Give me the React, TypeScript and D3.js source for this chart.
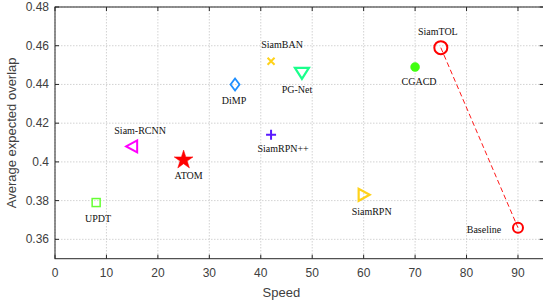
import React from "react";
import * as d3 from "d3";

const names = ["UPDT", "Siam-RCNN", "ATOM", "DiMP", "SiamBAN", "PG-Net", "SiamRPN++", "SiamRPN", "CGACD", "SiamTOL", "Baseline"];
const speeds = [8, 15, 25, 35, 42, 48, 42, 60, 70, 75, 90];
const eaos = [0.379, 0.408, 0.401, 0.44, 0.452, 0.446, 0.414, 0.383, 0.449, 0.459, 0.366];
const colors = ["#66ff33", "#ff00ff", "#ff0000", "#1f8fff", "#ffd21a", "#1aff8c", "#5a1aff", "#ffd21a", "#40ff10", "#ff0000", "#ff0000"];
const markers = ["square", "triLeft", "star", "diamond", "cross", "triDown", "plus", "triRight", "dot", "circleBig", "circle"];
// label offsets (dx, dy) relative to point, and anchor
const labelDx = [2, 8, 5, -1, 11, -5, 12, 8, 4, -3, -34];
const labelDy = [19, -12, 19, 20, -13, 20, 17, 20, 18, -13, 5];
const labelAnchor = ["middle", "middle", "middle", "middle", "middle", "middle", "middle", "middle", "middle", "middle", "middle"];
const xTicks = [0, 10, 20, 30, 40, 50, 60, 70, 80, 90];
const yTicks = [0.36, 0.38, 0.4, 0.42, 0.44, 0.46, 0.48];

const W = 543, H = 304;
const left = 55, top = 7, right = 543.7, bottom = 258.7;

export default function App() {
  const x = d3.scaleLinear().domain([0, 95]).range([left, right]);
  const y = d3.scaleLinear().domain([0.35, 0.48]).range([bottom, top]);
  const axisColor = "#262626";
  const tickText = "#404040";

  const drawMarker = (m: string, cx: number, cy: number, c: string, i: number) => {
    switch (m) {
      case "square":
        return <rect key={i} x={cx - 4} y={cy - 4} width={8} height={8} fill="none" stroke={c} strokeWidth={1.5} />;
      case "triLeft":
        return <path key={i} d={`M${cx - 6},${cy} L${cx + 5},${cy - 6} L${cx + 5},${cy + 6} Z`} fill="none" stroke={c} strokeWidth={2} strokeLinejoin="miter" />;
      case "triRight":
        return <path key={i} d={`M${cx + 6},${cy} L${cx - 5},${cy - 6} L${cx - 5},${cy + 6} Z`} fill="none" stroke={c} strokeWidth={2.2} />;
      case "triDown":
        return <path key={i} d={`M${cx},${cy + 6} L${cx - 7},${cy - 5} L${cx + 7},${cy - 5} Z`} fill="none" stroke={c} strokeWidth={2.2} />;
      case "star": {
        const s = d3.symbol().type(d3.symbolStar).size(110)();
        return <path key={i} d={s || ""} transform={`translate(${cx},${cy})`} fill={c} stroke={c} strokeWidth={0.5} />;
      }
      case "diamond":
        return <path key={i} d={`M${cx},${cy - 6} L${cx + 4.5},${cy} L${cx},${cy + 6} L${cx - 4.5},${cy} Z`} fill="none" stroke={c} strokeWidth={1.8} />;
      case "cross":
        return <path key={i} d={`M${cx - 3.5},${cy - 3.5} L${cx + 3.5},${cy + 3.5} M${cx - 3.5},${cy + 3.5} L${cx + 3.5},${cy - 3.5}`} stroke={c} strokeWidth={2} />;
      case "plus":
        return <path key={i} d={`M${cx - 5},${cy} L${cx + 5},${cy} M${cx},${cy - 5} L${cx},${cy + 5}`} stroke={c} strokeWidth={2} />;
      case "dot":
        return <circle key={i} cx={cx} cy={cy} r={4.5} fill={c} stroke={c} strokeWidth={0.5} />;
      case "circleBig":
        return <circle key={i} cx={cx} cy={cy} r={6.5} fill="none" stroke={c} strokeWidth={2} />;
      case "circle":
        return <circle key={i} cx={cx} cy={cy} r={5} fill="none" stroke={c} strokeWidth={2} />;
    }
    return null;
  };

  const iT = names.indexOf("SiamTOL");
  const iB = names.indexOf("Baseline");

  return (
    <svg width={W} height={H} style={{ position: "absolute", left: 0, top: 0, background: "#fff" }}>
      <rect x={0} y={0} width={W} height={H} fill="#fff" />
      {/* grid */}
      {xTicks.map((t) => (
        <line key={"gx" + t} x1={x(t)} x2={x(t)} y1={top} y2={bottom} stroke="#c8c8c8" strokeWidth={0.8} strokeDasharray="1.5,1.5" />
      ))}
      {yTicks.map((t) => (
        <line key={"gy" + t} x1={left} x2={right} y1={y(t)} y2={y(t)} stroke="#c8c8c8" strokeWidth={0.8} strokeDasharray="1.5,1.5" />
      ))}
      {/* box */}
      <rect x={left} y={top} width={right - left} height={bottom - top} fill="none" stroke={axisColor} strokeWidth={1} />
      {/* ticks */}
      {xTicks.map((t) => (
        <g key={"tx" + t}>
          <line x1={x(t)} x2={x(t)} y1={bottom} y2={bottom - 4} stroke={axisColor} />
          <line x1={x(t)} x2={x(t)} y1={top} y2={top + 4} stroke={axisColor} />
          <text x={x(t)} y={bottom + 18} textAnchor="middle" fontFamily="Liberation Sans, Arial, sans-serif" fontSize={12} fill={tickText}>{t}</text>
        </g>
      ))}
      {yTicks.map((t) => (
        <g key={"ty" + t}>
          <line x1={left} x2={left + 4} y1={y(t)} y2={y(t)} stroke={axisColor} />
          <line x1={right} x2={right - 4} y1={y(t)} y2={y(t)} stroke={axisColor} />
          <text x={left - 6} y={y(t) + 4} textAnchor="end" fontFamily="Liberation Sans, Arial, sans-serif" fontSize={12} fill={tickText}>{String(t)}</text>
        </g>
      ))}
      <text x={x(44)} y={297} textAnchor="middle" fontFamily="Liberation Sans, Arial, sans-serif" fontSize={13} fill={tickText}>Speed</text>
      <text transform={`translate(16,${(top + bottom) / 2}) rotate(-90)`} textAnchor="middle" fontFamily="Liberation Sans, Arial, sans-serif" fontSize={13} fill={tickText}>Average expected overlap</text>
      {/* dashed line */}
      <line x1={x(speeds[iT])} y1={y(eaos[iT])} x2={x(speeds[iB])} y2={y(eaos[iB])} stroke="#ff0000" strokeWidth={0.9} strokeDasharray="5,3" />
      {/* markers */}
      {names.map((n, i) => drawMarker(markers[i], x(speeds[i]), y(eaos[i]), colors[i], i))}
      {/* labels */}
      {names.map((n, i) => (
        <text key={"l" + i} x={x(speeds[i]) + labelDx[i]} y={y(eaos[i]) + labelDy[i]} textAnchor={labelAnchor[i] as any} fontFamily="Liberation Serif, Times New Roman, serif" fontSize={10} fill="#111">{n}</text>
      ))}
    </svg>
  );
}
